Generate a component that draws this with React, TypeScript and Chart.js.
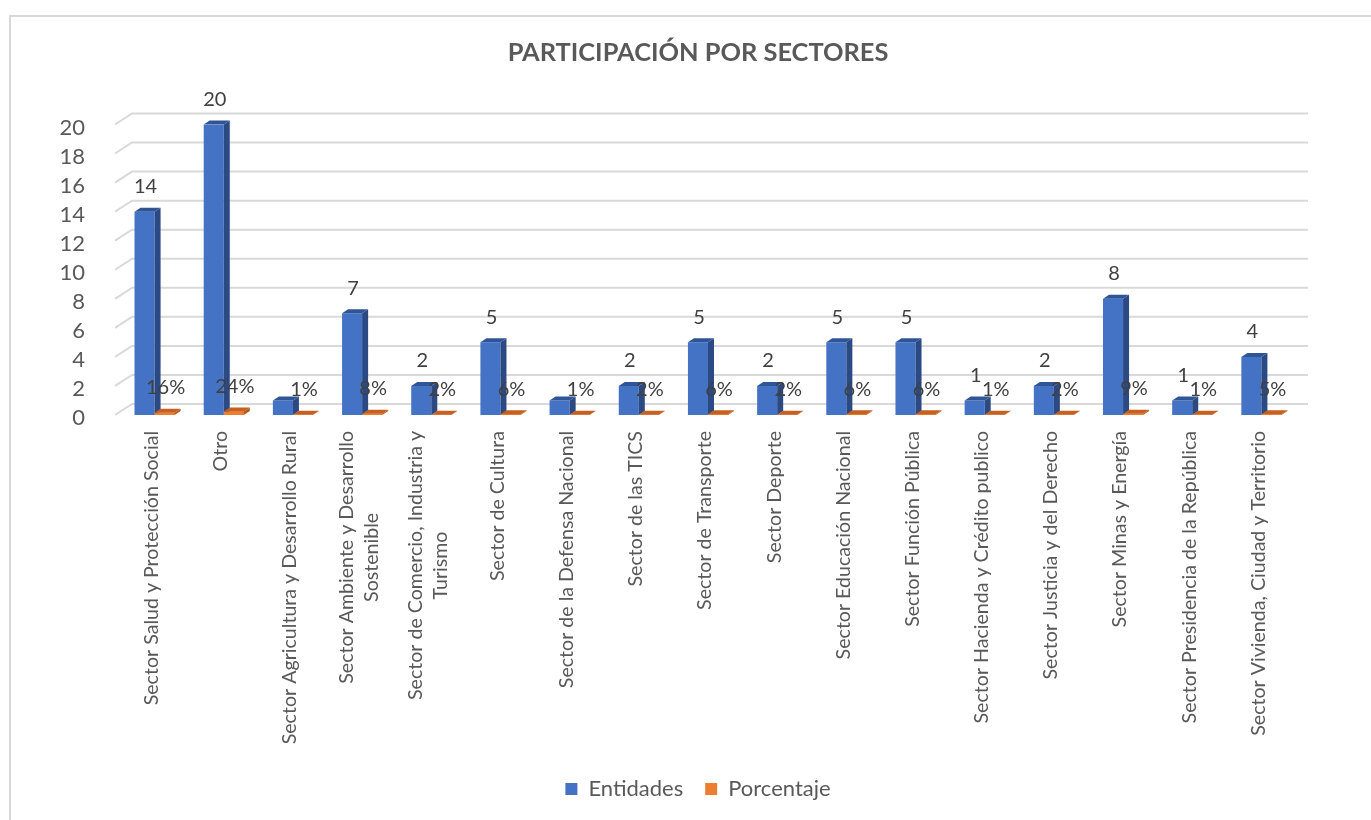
import React, { useEffect, useRef } from 'react';
import { Chart, registerables } from 'chart.js';

Chart.register(...registerables);

const categories: (string | string[])[] = [
  'Sector Salud y Protección Social',
  'Otro',
  'Sector Agricultura y Desarrollo Rural',
  ['Sector Ambiente y Desarrollo', 'Sostenible'],
  ['Sector de Comercio, Industria y', 'Turismo'],
  'Sector de Cultura',
  'Sector de la Defensa Nacional',
  'Sector de las TICS',
  'Sector de Transporte',
  'Sector Deporte',
  'Sector Educación Nacional',
  'Sector Función Pública',
  'Sector Hacienda y Crédito publico',
  'Sector Justicia y del Derecho',
  'Sector Minas y Energía',
  'Sector Presidencia de la República',
  'Sector Vivienda, Ciudad y Territorio',
];

const entidades = [14, 20, 1, 7, 2, 5, 1, 2, 5, 2, 5, 5, 1, 2, 8, 1, 4];
const porcentaje = [0.16, 0.24, 0.01, 0.08, 0.02, 0.06, 0.01, 0.02, 0.06, 0.02, 0.06, 0.06, 0.01, 0.02, 0.09, 0.01, 0.05];
const yTicks = [0, 2, 4, 6, 8, 10, 12, 14, 16, 18, 20];
// value labels of "Entidades" that the original chart does not show
const hiddenEntidadLabels = [2, 6];

const FONT = 'Lato';
const TEXT = '#595959';
const LABEL = '#404040';
const COLORS = ['#4472C4', '#ED7D31'];

const BAR_DX = 6;
const BAR_DY = 4;
const GRID_FRONT = 5;
const GRID_DX = 12;
const GRID_DY = 11;

const shades = [
  { side: '#2B4A84', top: '#2F5597' },
  { side: '#B4581C', top: '#C65F1F' },
];

function drawFaces(ctx: any, el: any, sh: { side: string; top: string }, front?: string) {
  const { x, y, base, width } = el.getProps(['x', 'y', 'base', 'width'], true);
  const l = x - width / 2;
  const r = x + width / 2;
  if (front) {
    ctx.fillStyle = front;
    ctx.fillRect(l, y, width, base - y);
  }
  ctx.fillStyle = sh.side;
  ctx.beginPath();
  ctx.moveTo(r, y);
  ctx.lineTo(r + BAR_DX, y - BAR_DY);
  ctx.lineTo(r + BAR_DX, base - BAR_DY);
  ctx.lineTo(r, base);
  ctx.closePath();
  ctx.fill();
  ctx.fillStyle = sh.top;
  ctx.beginPath();
  ctx.moveTo(l, y);
  ctx.lineTo(l + BAR_DX, y - BAR_DY);
  ctx.lineTo(r + BAR_DX, y - BAR_DY);
  ctx.lineTo(r, y);
  ctx.closePath();
  ctx.fill();
}

const bar3d = {
  id: 'bar3d',
  beforeDatasetsDraw(chart: any) {
    const { ctx, chartArea } = chart;
    const ys = chart.scales.y;
    ctx.save();
    ctx.strokeStyle = '#d9d9d9';
    ctx.lineWidth = 2;
    yTicks.forEach((v) => {
      const py = ys.getPixelForValue(v);
      ctx.beginPath();
      ctx.moveTo(chartArea.left - GRID_FRONT, py);
      ctx.lineTo(chartArea.left + GRID_DX, py - GRID_DY);
      ctx.lineTo(chartArea.right + GRID_DX, py - GRID_DY);
      ctx.stroke();
    });
    ctx.restore();
  },
  afterDatasetsDraw(chart: any) {
    const { ctx } = chart;
    ctx.save();
    const m0 = chart.getDatasetMeta(0);
    const m1 = chart.getDatasetMeta(1);
    m0.data.forEach((el: any, i: number) => {
      drawFaces(ctx, el, shades[0]);
      const el1 = m1.data[i];
      if (el1) drawFaces(ctx, el1, shades[1], COLORS[1]);
    });

    ctx.font = `20px ${FONT}`;
    ctx.fillStyle = LABEL;
    ctx.textAlign = 'center';
    ctx.textBaseline = 'middle';
    [0, 1].forEach((di) => {
      const meta = chart.getDatasetMeta(di);
      const vals = chart.data.datasets[di].data as number[];
      meta.data.forEach((el: any, i: number) => {
        if (di === 0 && hiddenEntidadLabels.includes(i)) return;
        const { x, y } = el.getProps(['x', 'y'], true);
        const txt = di === 0 ? String(vals[i]) : `${Math.round(vals[i] * 100)}%`;
        ctx.fillText(txt, x + 1, y - 25);
      });
    });
    ctx.restore();
  },
  afterDraw(chart: any) {
    const { ctx, chartArea } = chart;
    const xs = chart.scales.x;
    const lh = 25;
    ctx.save();
    ctx.font = `19.6px ${FONT}`;
    ctx.fillStyle = TEXT;
    ctx.textAlign = 'center';
    ctx.textBaseline = 'middle';
    const top = chartArea.bottom + 16;
    (chart.data.labels as (string | string[])[]).forEach((lab, i) => {
      const lines = Array.isArray(lab) ? lab : [lab];
      const w = Math.max(...lines.map((s) => ctx.measureText(s).width));
      const cx = xs.getPixelForValue(i) - 3;
      ctx.save();
      ctx.translate(cx, top);
      ctx.rotate(-Math.PI / 2);
      lines.forEach((s, k) => {
        const off = (k - (lines.length - 1) / 2) * lh;
        ctx.fillText(s, -w / 2, off);
      });
      ctx.restore();
    });
    ctx.restore();
  },
};

export default function App() {
  const ref = useRef<HTMLCanvasElement | null>(null);

  useEffect(() => {
    document.body.style.overflow = 'hidden';
    const canvas = ref.current;
    if (!canvas) return;
    const chart = new Chart(canvas, {
      type: 'bar',
      data: {
        labels: categories as any,
        datasets: [
          {
            label: 'Entidades',
            data: entidades,
            backgroundColor: COLORS[0],
            categoryPercentage: 0.58,
            barPercentage: 1,
          },
          {
            label: 'Porcentaje',
            data: porcentaje,
            backgroundColor: COLORS[1],
            categoryPercentage: 0.58,
            barPercentage: 1,
          },
        ],
      },
      options: {
        animation: false,
        responsive: false,
        maintainAspectRatio: false,
        layout: { padding: { left: 25, right: 0, top: 24, bottom: 10 } },
        plugins: {
          title: {
            display: true,
            text: 'PARTICIPACIÓN POR SECTORES',
            color: TEXT,
            font: { family: FONT, size: 25.4, weight: 'bold' },
            padding: { top: 14, bottom: 56 },
          },
          legend: {
            position: 'bottom',
            labels: {
              boxWidth: 12,
              boxHeight: 12,
              color: TEXT,
              font: { family: FONT, size: 22 },
              padding: 22,
            },
          },
          tooltip: { enabled: false },
        },
        scales: {
          x: {
            grid: { display: false },
            border: { display: false },
            ticks: { display: false },
            afterFit: (s: any) => {
              const lg = s.chart.legend;
              const lh = lg && lg.height ? lg.height : 40;
              s.height = s.chart.height - 10 - lh - 415;
            },
          },
          y: {
            min: 0,
            max: 20,
            grid: { display: false },
            border: { display: false },
            ticks: {
              stepSize: 2,
              autoSkip: false,
              color: TEXT,
              font: { family: FONT, size: 22 },
              padding: 27,
              labelOffset: 3,
            },
            afterFit: (s: any) => {
              s.width = 95;
            },
          },
          spacer: {
            type: 'linear',
            position: 'right',
            display: true,
            grid: { display: false },
            border: { display: false },
            ticks: { display: false },
            afterFit: (s: any) => {
              s.width = 75;
            },
          },
        },
      },
      plugins: [bar3d],
    });
    return () => chart.destroy();
  }, []);

  return (
    <div style={{ position: 'fixed', left: 0, top: 0, width: 1371, height: 820, overflow: 'hidden', background: '#fff' }}>
      <div
        style={{
          position: 'absolute',
          left: 9,
          top: 15,
          width: 1400,
          height: 900,
          border: '2px solid #d9d9d9',
          boxSizing: 'border-box',
        }}
      />
      <canvas ref={ref} width={1371} height={820} style={{ position: 'absolute', left: 0, top: 0, width: 1371, height: 820 }} />
    </div>
  );
}
